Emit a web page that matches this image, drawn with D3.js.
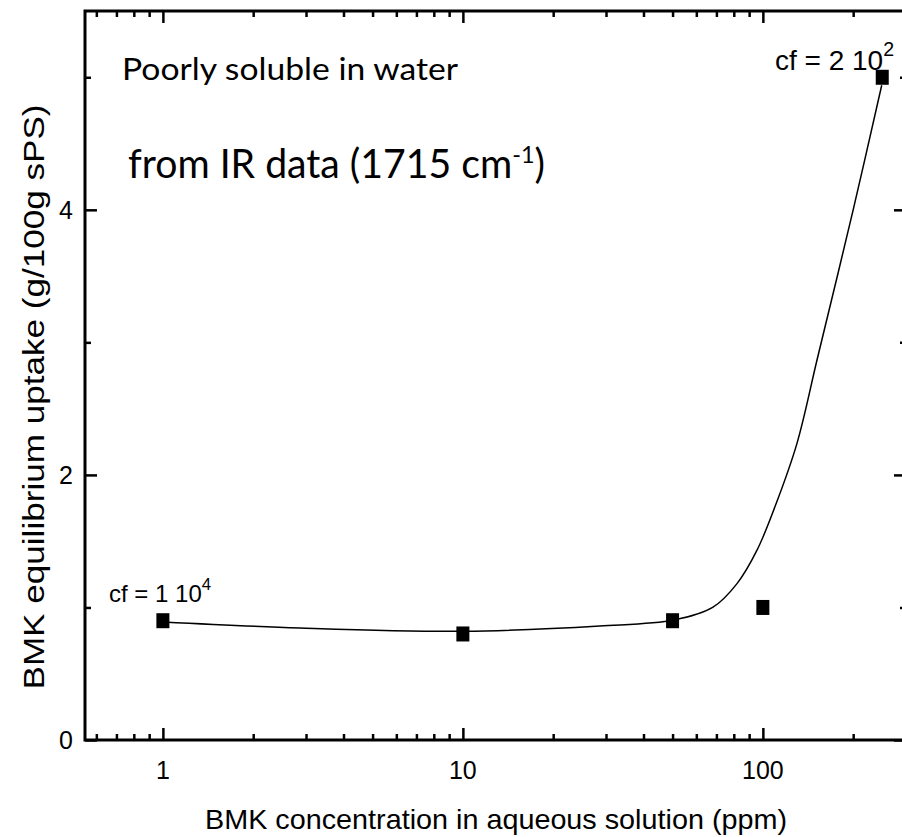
<!DOCTYPE html>
<html>
<head>
<meta charset="utf-8">
<script src="https://cdn.jsdelivr.net/npm/d3@7"></script>
<style>
  html, body { margin: 0; padding: 0; background: #fff; }
  svg { display: block; }
</style>
</head>
<body>
<div id="chart"></div>
<script>
// measured points (ppm, g/100g sPS)
const concentration = [1, 10, 50, 100, 250];
const uptake = [0.9, 0.8, 0.9, 1.0, 5.0];

// fitted curve
const fitX = [1, 2.86, 10, 28.6, 50.5, 68, 82, 95.5, 111, 130, 152, 200, 249];
const fitY = [0.89, 0.845, 0.82, 0.86, 0.905, 1.0, 1.18, 1.43, 1.79, 2.24, 2.88, 4.0, 4.94];

const xMajor = [1, 10, 100];
const xMinor = [0.6, 0.7, 0.8, 0.9, 2, 3, 4, 5, 6, 7, 8, 9, 20, 30, 40, 50, 60, 70, 80, 90, 200, 300];
const yMajor = [0, 2, 4];
const yMinor = [1, 3, 5];

const W = 902, H = 837;
const plotL = 85, plotR = 906, plotT = 11, plotB = 740;

const svg = d3.select("#chart").append("svg")
    .attr("width", W).attr("height", H)
    .style("font-family", "'Liberation Sans', Arial, sans-serif");

const x = d3.scaleLog().domain([0.55, 300]).range([plotL, plotR]);
const y = d3.scaleLinear().domain([0, 5.5]).range([plotB, plotT]);

// axes: all ticks point inward
function axisSet(axisFn, scale, vals, size, translate) {
    const g = svg.append("g")
        .attr("transform", translate)
        .call(axisFn(scale).tickValues(vals).tickSize(size).tickFormat(""));
    g.select(".domain").remove();
    g.selectAll(".tick line").attr("stroke", "#000").attr("stroke-width", 2.5);
    return g;
}
axisSet(d3.axisBottom, x, xMajor, -12, `translate(0,${plotB})`);
axisSet(d3.axisBottom, x, xMinor, -6, `translate(0,${plotB})`);
axisSet(d3.axisTop, x, xMajor, -12, `translate(0,${plotT})`);
axisSet(d3.axisTop, x, xMinor, -6, `translate(0,${plotT})`);
axisSet(d3.axisLeft, y, yMajor, -12, `translate(${plotL},0)`);
axisSet(d3.axisLeft, y, yMinor, -6, `translate(${plotL},0)`);
axisSet(d3.axisRight, y, yMajor, -12, `translate(${plotR},0)`);
axisSet(d3.axisRight, y, yMinor, -6, `translate(${plotR},0)`);

// frame
svg.append("rect")
    .attr("x", plotL).attr("y", plotT)
    .attr("width", plotR - plotL).attr("height", plotB - plotT)
    .attr("fill", "none").attr("stroke", "#000").attr("stroke-width", 3);

// tick labels
svg.append("g").selectAll("text")
    .data(xMajor).join("text")
    .attr("x", d => x(d)).attr("y", 779)
    .attr("text-anchor", "middle")
    .attr("font-size", 25)
    .text(d => d);

svg.append("g").selectAll("text")
    .data(yMajor).join("text")
    .attr("x", 73).attr("y", d => y(d))
    .attr("dy", "0.36em")
    .attr("text-anchor", "end")
    .attr("font-size", 25)
    .text(d => d);

// axis titles
svg.append("text")
    .attr("x", 496).attr("y", 829)
    .attr("text-anchor", "middle")
    .attr("font-size", 28)
    .attr("textLength", 582).attr("lengthAdjust", "spacingAndGlyphs")
    .text("BMK concentration in aqueous solution (ppm)");

svg.append("text")
    .attr("transform", "translate(44,397) rotate(-90)")
    .attr("text-anchor", "middle")
    .attr("font-size", 30)
    .attr("textLength", 585).attr("lengthAdjust", "spacingAndGlyphs")
    .text("BMK equilibrium uptake (g/100g sPS)");

// fitted curve
const line = d3.line()
    .x((d, i) => x(fitX[i]))
    .y(d => y(d))
    .curve(d3.curveCatmullRom.alpha(0.5));

svg.append("path")
    .attr("d", line(fitY))
    .attr("fill", "none")
    .attr("stroke", "#000")
    .attr("stroke-width", 1.5);

// points
svg.append("g").selectAll("rect")
    .data(uptake).join("rect")
    .attr("x", (d, i) => x(concentration[i]) - 6.5)
    .attr("y", d => y(d) - 7.5)
    .attr("width", 13).attr("height", 15)
    .attr("fill", "#000");

// annotations
const note = svg.append("g").style("font-family", "Lato, 'Open Sans', sans-serif");
note.append("text")
    .attr("x", 122).attr("y", 80)
    .attr("font-size", 31)
    .attr("textLength", 336).attr("lengthAdjust", "spacingAndGlyphs")
    .text("Poorly soluble in water");

const ir = note.append("text")
    .attr("x", 128).attr("y", 178)
    .attr("font-size", 40)
    .attr("textLength", 417).attr("lengthAdjust", "spacingAndGlyphs");
ir.append("tspan").text("from IR data (1715 cm");
ir.append("tspan").attr("font-size", 24).attr("dy", -15).text("-1");
ir.append("tspan").attr("dy", 15).text(")");

function cfLabel(xPos, yPos, base, exp, size) {
    const t = svg.append("text")
        .attr("x", xPos).attr("y", yPos)
        .attr("font-size", size);
    t.append("tspan").text(`cf = ${base} 10`);
    t.append("tspan").attr("font-size", size * 0.7).attr("dy", -size / 2).text(exp);
}
cfLabel(775, 70, 2, 2, 28);
cfLabel(109, 602, 1, 4, 24);
</script>
</body>
</html>
